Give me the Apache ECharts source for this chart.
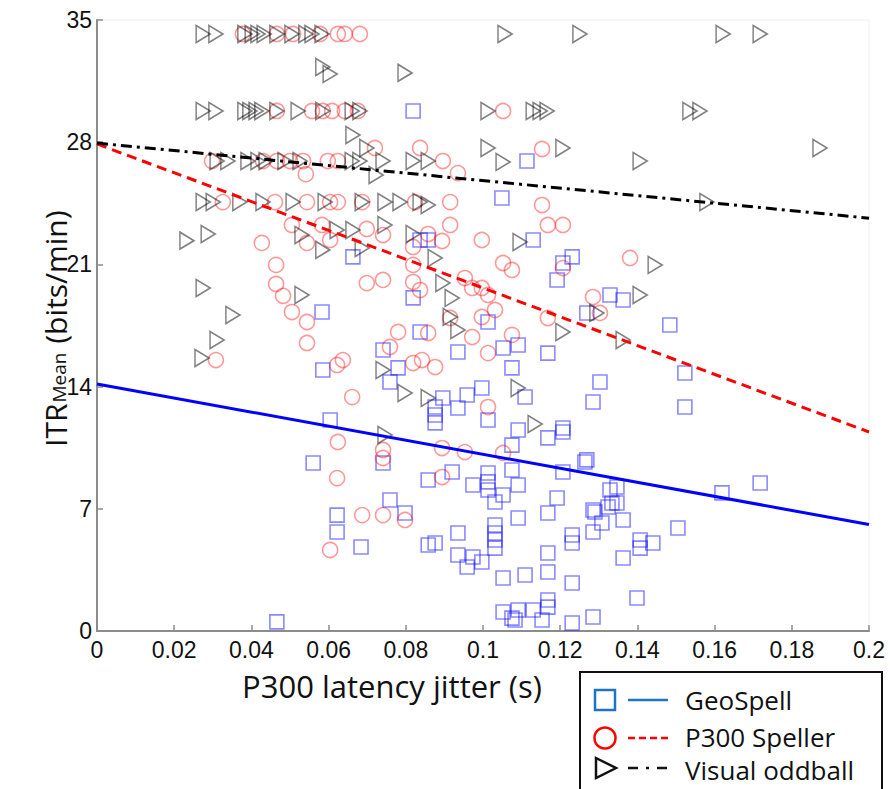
<!DOCTYPE html>
<html>
<head>
<meta charset="utf-8">
<script src="https://cdn.jsdelivr.net/npm/echarts@6/dist/echarts.min.js"></script>
<style>
  html, body { margin: 0; padding: 0; background: #ffffff; }
  #chart { width: 890px; height: 789px; }
</style>
</head>
<body>
<div id="chart"></div>
<script>
// Axis ticks
const xTicks = [0, 0.02, 0.04, 0.06, 0.08, 0.1, 0.12, 0.14, 0.16, 0.18, 0.2];
const yTicks = [0, 7, 14, 21, 28, 35];

// GeoSpell: [P300 latency jitter (s), ITR (bits/min)]
const geoSpellPoints = [
  [0.0819, 29.79], [0.1114, 26.92], [0.1049, 24.80], [0.0837, 22.40], [0.0858, 22.40],
  [0.1130, 22.40], [0.0663, 21.43], [0.1231, 21.43], [0.1207, 21.08], [0.1192, 20.11],
  [0.0819, 19.08], [0.1329, 19.25], [0.1363, 18.96], [0.0583, 18.27], [0.1269, 18.22],
  [0.1013, 17.70], [0.0837, 17.13], [0.1484, 17.53], [0.0741, 16.10], [0.0780, 15.07],
  [0.0759, 14.26], [0.0935, 15.98], [0.1052, 16.21], [0.1091, 16.38], [0.1168, 15.92],
  [0.1075, 15.07], [0.0585, 14.95], [0.0997, 13.92], [0.0959, 13.52], [0.0896, 13.35],
  [0.0935, 12.77], [0.0876, 12.83], [0.0876, 12.37], [0.0876, 11.92], [0.1013, 12.09],
  [0.1109, 13.40], [0.1207, 11.63], [0.1285, 13.12], [0.1303, 14.26], [0.1523, 14.78],
  [0.1523, 12.83], [0.0741, 9.62], [0.1091, 11.51], [0.1075, 10.65], [0.1168, 11.06],
  [0.1207, 11.40], [0.1269, 9.80], [0.0858, 8.65], [0.0920, 9.11], [0.0974, 8.36],
  [0.1013, 9.05], [0.1013, 8.54], [0.1013, 8.08], [0.1052, 7.79], [0.1031, 7.39],
  [0.1075, 9.22], [0.1091, 8.36], [0.1207, 9.11], [0.1192, 7.62], [0.1168, 6.76],
  [0.1091, 6.47], [0.1285, 6.93], [0.1285, 5.67], [0.1231, 5.50], [0.1231, 5.04],
  [0.0759, 7.50], [0.0798, 6.76], [0.0935, 5.61], [0.1031, 6.07], [0.1031, 5.61],
  [0.1031, 5.21], [0.1031, 4.75], [0.0858, 4.93], [0.0876, 5.04], [0.0684, 4.81],
  [0.0935, 4.35], [0.0974, 4.24], [0.0997, 3.95], [0.0959, 3.67], [0.1168, 4.47],
  [0.1168, 3.38], [0.1052, 3.04], [0.1109, 3.21], [0.1231, 2.75], [0.1052, 1.09],
  [0.1075, 0.74], [0.1091, 1.20], [0.1130, 1.20], [0.1153, 0.63], [0.1168, 1.78],
  [0.1168, 1.37], [0.1231, 0.46], [0.1285, 0.80], [0.1083, 0.63], [0.0560, 9.62],
  [0.0622, 6.64], [0.0622, 5.67], [0.0466, 0.52], [0.1264, 9.68], [0.1329, 8.08],
  [0.1334, 7.33], [0.1347, 8.25], [0.1347, 7.33], [0.1290, 6.82], [0.1308, 6.19],
  [0.1363, 6.36], [0.1324, 7.10], [0.1407, 5.21], [0.1407, 4.75], [0.1440, 5.04],
  [0.1505, 5.90], [0.1363, 4.18], [0.1399, 1.89], [0.1619, 7.91], [0.1718, 8.48],
  [0.0604, 12.09]
];

// P300 Speller
const p300SpellerPoints = [
  [0.0378, 34.20], [0.0466, 34.20], [0.0508, 34.20], [0.0578, 34.20], [0.0624, 34.20],
  [0.0642, 34.20], [0.0681, 34.20],
  [0.0466, 29.79], [0.0557, 29.79], [0.0585, 29.79], [0.0609, 29.79], [0.0642, 29.79],
  [0.0676, 29.79], [0.1052, 29.79],
  [0.0720, 27.67], [0.0837, 27.67], [0.1153, 27.61],
  [0.0298, 26.92], [0.0430, 26.92], [0.0466, 26.92], [0.0500, 26.92], [0.0534, 26.92],
  [0.0598, 26.92], [0.0624, 26.92], [0.0896, 26.92],
  [0.0541, 26.17], [0.0935, 26.23],
  [0.0326, 24.57], [0.0461, 24.57], [0.0544, 24.57], [0.0604, 24.57], [0.0624, 24.57],
  [0.0687, 24.57], [0.0824, 24.57], [0.0915, 24.57], [0.1153, 24.40],
  [0.0427, 22.23], [0.0464, 20.97], [0.0464, 19.88], [0.0482, 19.20], [0.0505, 18.27],
  [0.0544, 17.70], [0.0544, 16.50], [0.0308, 15.52], [0.0622, 15.24], [0.0637, 15.52],
  [0.0661, 13.40], [0.0505, 23.26], [0.0544, 22.23], [0.0583, 23.26], [0.0604, 22.40],
  [0.0699, 19.93], [0.0699, 23.03], [0.0741, 22.68], [0.0741, 20.11], [0.0819, 22.00],
  [0.0819, 20.97], [0.0819, 19.99], [0.0837, 19.53], [0.0858, 22.74], [0.0894, 22.34],
  [0.0915, 23.26], [0.0997, 22.40], [0.1168, 23.26], [0.1207, 23.26], [0.1052, 21.08],
  [0.1075, 20.68], [0.0953, 20.22], [0.0972, 19.65], [0.0997, 19.65], [0.1013, 19.25],
  [0.1031, 18.39], [0.0997, 17.99], [0.0915, 17.93], [0.1168, 17.93], [0.1207, 20.79],
  [0.1285, 19.13], [0.0780, 17.13], [0.0858, 17.07], [0.0759, 16.27], [0.0972, 16.84],
  [0.1075, 16.96], [0.1013, 15.92], [0.0819, 15.35], [0.0842, 15.52], [0.0876, 15.12],
  [0.1013, 12.83], [0.0741, 10.37], [0.0741, 9.91], [0.0894, 10.48], [0.0953, 10.25],
  [0.1052, 10.20], [0.0894, 8.82], [0.0687, 6.64], [0.0741, 6.64], [0.0798, 6.36],
  [0.0604, 4.64], [0.0624, 10.83], [0.0622, 8.76], [0.1381, 21.37], [0.1303, 18.22]
];

// Visual oddball
const visualOddballPoints = [
  [0.0275, 34.20], [0.0308, 34.20], [0.0383, 34.20], [0.0402, 34.20], [0.0417, 34.20],
  [0.0433, 34.20], [0.0466, 34.20], [0.0505, 34.20], [0.0541, 34.20], [0.0557, 34.20],
  [0.0583, 34.20], [0.1057, 34.20], [0.1251, 34.20], [0.1622, 34.20], [0.1718, 34.20],
  [0.0585, 32.31], [0.0604, 31.91], [0.0798, 31.97],
  [0.0275, 29.79], [0.0308, 29.79], [0.0383, 29.79], [0.0396, 29.79], [0.0412, 29.79],
  [0.0427, 29.79], [0.0466, 29.79], [0.0521, 29.79], [0.0585, 29.79], [0.0661, 29.79],
  [0.0681, 29.79], [0.1013, 29.79], [0.1130, 29.79], [0.1148, 29.79], [0.1166, 29.79],
  [0.1536, 29.79], [0.1562, 29.79],
  [0.0663, 28.41], [0.0699, 27.67], [0.1013, 27.67], [0.1207, 27.67], [0.1873, 27.67],
  [0.0311, 26.92], [0.0339, 26.92], [0.0391, 26.92], [0.0417, 26.92], [0.0438, 26.92],
  [0.0487, 26.92], [0.0526, 26.92], [0.0661, 26.92], [0.0681, 26.92], [0.0741, 26.92],
  [0.0819, 26.92], [0.0858, 26.92], [0.1407, 26.92], [0.1052, 26.87], [0.0723, 26.12],
  [0.0275, 24.57], [0.0301, 24.57], [0.0370, 24.57], [0.0430, 24.57], [0.0508, 24.57],
  [0.0591, 24.57], [0.0687, 24.57], [0.0746, 24.57], [0.0785, 24.57], [0.0837, 24.57],
  [0.0858, 24.40], [0.1580, 24.57],
  [0.0233, 22.36], [0.0288, 22.74], [0.0531, 22.68], [0.0622, 22.97], [0.0663, 22.97],
  [0.0687, 21.94], [0.0585, 21.83], [0.0746, 23.26], [0.0819, 22.74], [0.1096, 22.28],
  [0.0876, 21.37], [0.1446, 20.97], [0.0896, 19.93], [0.0275, 19.65], [0.0531, 19.25],
  [0.0920, 19.08], [0.1407, 19.25], [0.0352, 18.10], [0.0915, 17.99], [0.1295, 18.22],
  [0.0935, 17.24], [0.1207, 17.13], [0.1363, 16.67], [0.0311, 16.67], [0.0272, 15.64],
  [0.0741, 14.95], [0.0798, 13.63], [0.0858, 13.35], [0.1091, 13.92], [0.1135, 11.86],
  [0.0746, 11.23]
];

// Least-squares fit lines, evaluated at both ends of the jitter range
const fitX = [0, 0.2];
const geoSpellFit = [14.15, 6.1];
const p300SpellerFit = [27.9, 11.4];
const visualOddballFit = [27.95, 23.65];

const fitLine = (ys) => fitX.map((x, i) => [x, ys[i]]);

const tickFont = 'Liberation Sans, Arial, sans-serif';
const titleFont = 'Open Sans, sans-serif';
const triangleRight = 'path://M0,0L12,7L0,14Z';

const chart = echarts.init(document.getElementById('chart'), null, { renderer: 'svg' });

// measure text so the subscript label pieces sit next to each other
const ctx = document.createElement('canvas').getContext('2d');
function textWidth(str, size) {
  ctx.font = size + 'px ' + titleFont;
  return ctx.measureText(str).width;
}
const itrW = textWidth('ITR', 30);
const meanW = textWidth('Mean', 19);

const legendText = (label, y) => ({
  type: 'text', x: 685, y: y, z: 11,
  style: { text: label, fontSize: 26, fontFamily: titleFont, lineHeight: 26, fill: '#111', textVerticalAlign: 'middle' }
});

const option = {
  animation: false,
  backgroundColor: '#ffffff',
  grid: {
    left: 97, right: 21, top: 20, bottom: 158,
    show: true, borderColor: '#efefef', borderWidth: 1
  },
  xAxis: {
    type: 'value',
    min: 0, max: 0.2, interval: 0.02,
    axisLine: { show: true, onZero: false, lineStyle: { color: '#8c8c8c', width: 2 } },
    axisTick: { show: true, inside: true, length: 6, lineStyle: { color: '#8c8c8c', width: 1.5 } },
    axisLabel: {
      margin: 7, color: '#111', fontSize: 23, fontFamily: tickFont,
      formatter: (v) => {
        const t = xTicks.find((k) => Math.abs(k - v) < 1e-9);
        return t === undefined ? '' : String(t);
      }
    },
    splitLine: { show: false }
  },
  yAxis: {
    type: 'value',
    min: 0, max: 35, interval: 7,
    axisLine: { show: true, onZero: false, lineStyle: { color: '#8c8c8c', width: 2 } },
    axisTick: { show: true, inside: true, length: 6, lineStyle: { color: '#8c8c8c', width: 1.5 } },
    axisLabel: {
      margin: 5, color: '#111', fontSize: 23, fontFamily: tickFont,
      formatter: (v) => (yTicks.indexOf(v) >= 0 ? String(v) : '')
    },
    splitLine: { show: false }
  },
  series: [
    {
      name: 'GeoSpell', type: 'scatter', data: geoSpellPoints,
      symbol: 'rect', symbolSize: 14,
      itemStyle: { color: 'rgba(255,255,255,0)', borderColor: 'rgba(0,0,255,0.58)', borderWidth: 1.6 },
      z: 2
    },
    {
      name: 'P300 Speller', type: 'scatter', data: p300SpellerPoints,
      symbol: 'circle', symbolSize: 15,
      itemStyle: { color: 'rgba(255,255,255,0)', borderColor: 'rgba(255,0,0,0.5)', borderWidth: 1.6 },
      z: 2
    },
    {
      name: 'Visual oddball', type: 'scatter', data: visualOddballPoints,
      symbol: triangleRight, symbolSize: [14, 17],
      itemStyle: { color: 'rgba(255,255,255,0)', borderColor: 'rgba(0,0,0,0.62)', borderWidth: 1.6 },
      z: 2
    },
    {
      name: 'GeoSpell fit', type: 'line', data: fitLine(geoSpellFit),
      showSymbol: false, silent: true, z: 5,
      lineStyle: { color: '#0000ff', width: 3, type: 'solid' }
    },
    {
      name: 'P300 Speller fit', type: 'line', data: fitLine(p300SpellerFit),
      showSymbol: false, silent: true, z: 5,
      lineStyle: { color: '#ff0000', width: 3, type: [10, 6] }
    },
    {
      name: 'Visual oddball fit', type: 'line', data: fitLine(visualOddballFit),
      showSymbol: false, silent: true, z: 5,
      lineStyle: { color: '#000000', width: 3, type: [11, 5, 3, 5] }
    }
  ],
  graphic: [
    // y axis title with subscript
    {
      type: 'group', rotation: Math.PI / 2, x: 40, y: 447,
      children: [
        { type: 'text', x: 0, y: 0,
          style: { text: 'ITR', font: '30px ' + titleFont, fill: '#111', textBaseline: 'alphabetic', textAlign: 'left' } },
        { type: 'text', x: itrW + 1, y: 9,
          style: { text: 'Mean', font: '19px ' + titleFont, fill: '#111', textBaseline: 'alphabetic', textAlign: 'left' } },
        { type: 'text', x: itrW + meanW + 2, y: 0,
          style: { text: ' (bits/min)', font: '30px ' + titleFont, fill: '#111', textBaseline: 'alphabetic', textAlign: 'left' } }
      ]
    },
    // x axis title
    {
      type: 'text', x: 392, y: 686,
      style: { text: 'P300 latency jitter (s)', font: '31px ' + titleFont, fill: '#111', textAlign: 'center', textVerticalAlign: 'middle' }
    },
    // legend box
    {
      type: 'rect', shape: { x: 580, y: 672, width: 302, height: 130 },
      style: { fill: '#ffffff', stroke: '#111', lineWidth: 2 }, z: 10
    },
    { type: 'rect', shape: { x: 595, y: 690, width: 20, height: 20 },
      style: { fill: 'none', stroke: '#1f74c2', lineWidth: 2.5 }, z: 11 },
    { type: 'line', shape: { x1: 628, y1: 700, x2: 668, y2: 700 },
      style: { stroke: '#1f74c2', lineWidth: 2.5 }, z: 11 },
    legendText('GeoSpell', 700),
    { type: 'circle', shape: { cx: 605, cy: 738, r: 10.5 },
      style: { fill: 'none', stroke: '#ff0000', lineWidth: 2.5 }, z: 11 },
    { type: 'line', shape: { x1: 628, y1: 738, x2: 668, y2: 738 },
      style: { stroke: '#ff0000', lineWidth: 2.5, lineDash: [7, 4] }, z: 11 },
    legendText('P300 Speller', 737),
    { type: 'polygon', shape: { points: [[596, 758], [616, 768], [596, 778]] },
      style: { fill: 'none', stroke: '#111', lineWidth: 2.5 }, z: 11 },
    { type: 'line', shape: { x1: 628, y1: 768, x2: 668, y2: 768 },
      style: { stroke: '#111', lineWidth: 2.5, lineDash: [10, 8, 3, 8] }, z: 11 },
    legendText('Visual oddball', 770)
  ]
};

chart.setOption(option);
</script>
</body>
</html>
